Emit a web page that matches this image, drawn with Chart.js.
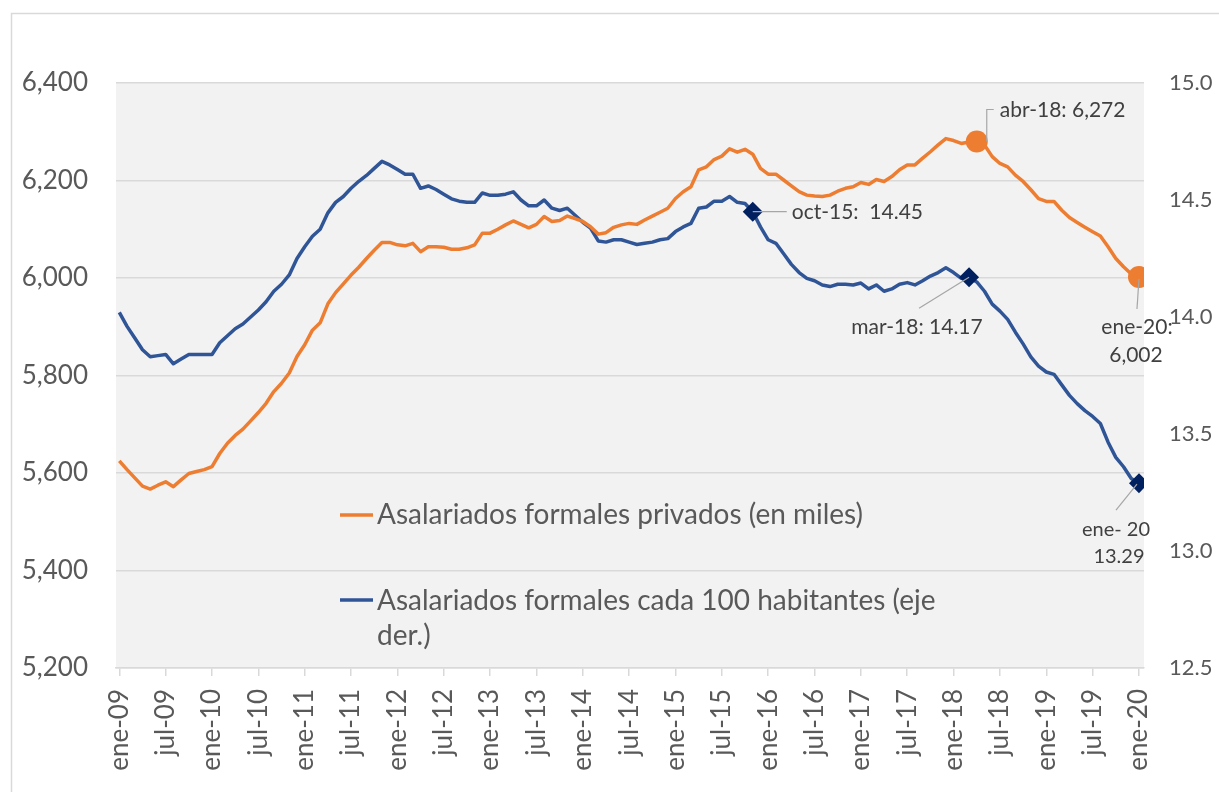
<!DOCTYPE html>
<html>
<head>
<meta charset="utf-8">
<script src="https://cdn.jsdelivr.net/npm/chart.js@4.4.0/dist/chart.umd.min.js"></script>
<style>
  html, body { margin: 0; padding: 0; background: #fff; }
</style>
</head>
<body>
<canvas id="myChart" width="1219" height="792"></canvas>
<script>
// meses ene-09 .. ene-20 (mensual)
var meses = ['ene', 'feb', 'mar', 'abr', 'may', 'jun', 'jul', 'ago', 'sep', 'oct', 'nov', 'dic'];
var etiquetas = [];
for (var a = 9; a <= 20; a++) {
  for (var m = 0; m < 12; m++) {
    if (a == 20 && m > 0) break;
    etiquetas.push(meses[m] + '-' + (a < 10 ? '0' + a : a));
  }
}

// Asalariados formales privados (en miles) - eje izq.
var privados = [
  5625, 5607, 5590, 5573, 5567, 5575, 5582, 5572, 5586, 5599, 5603, 5607,
  5613, 5640, 5661, 5677, 5690, 5707, 5724, 5743, 5767, 5784, 5805, 5839,
  5863, 5893, 5908, 5947, 5970, 5988, 6006, 6022, 6040, 6057, 6073, 6073,
  6068, 6066, 6071, 6054, 6064, 6064, 6063, 6059, 6059, 6062, 6068, 6092,
  6092, 6100, 6109, 6117, 6110, 6103, 6110, 6126, 6116, 6118, 6127, 6122,
  6116, 6105, 6090, 6093, 6104, 6109, 6112, 6110, 6119, 6127, 6135, 6143,
  6163, 6177, 6187, 6222, 6228, 6243, 6250, 6265, 6258, 6264, 6254, 6225,
  6213, 6213, 6201, 6189, 6177, 6170, 6168, 6167, 6170, 6178, 6184, 6187,
  6196, 6192, 6202, 6198, 6208, 6222, 6232, 6232, 6246, 6259, 6273, 6286,
  6282, 6276, 6279, 6280, 6273, 6249, 6235, 6228, 6211, 6198, 6181, 6163,
  6157, 6157, 6139, 6124, 6114, 6104, 6095, 6086, 6064, 6040, 6023, 6008,
  6002
];

// Asalariados formales cada 100 habitantes - eje der.
var cada100 = [
  14.02, 13.96, 13.91, 13.86, 13.83, 13.835, 13.84, 13.80, 13.82, 13.84, 13.84, 13.84,
  13.84, 13.89, 13.92, 13.95, 13.97, 14.00, 14.03, 14.065, 14.11, 14.14, 14.18, 14.25,
  14.30, 14.345, 14.375, 14.445, 14.49, 14.515, 14.55, 14.58, 14.605, 14.635, 14.665, 14.65,
  14.63, 14.61, 14.61, 14.55, 14.56, 14.545, 14.525, 14.505, 14.495, 14.49, 14.49, 14.53,
  14.52, 14.52, 14.525, 14.535, 14.50, 14.475, 14.475, 14.50, 14.465, 14.455, 14.465, 14.435,
  14.405, 14.38, 14.325, 14.32, 14.33, 14.33, 14.32, 14.31, 14.315, 14.32, 14.33, 14.335,
  14.365, 14.385, 14.40, 14.465, 14.47, 14.495, 14.495, 14.515, 14.49, 14.485, 14.45, 14.385,
  14.33, 14.315, 14.27, 14.225, 14.19, 14.165, 14.155, 14.137, 14.13, 14.14, 14.14, 14.137,
  14.145, 14.12, 14.137, 14.11, 14.12, 14.14, 14.147, 14.137, 14.155, 14.175, 14.19, 14.21,
  14.19, 14.165, 14.17, 14.15, 14.11, 14.055, 14.025, 13.99, 13.935, 13.885, 13.83, 13.79,
  13.765, 13.755, 13.71, 13.665, 13.63, 13.60, 13.575, 13.545, 13.465, 13.40, 13.36, 13.31,
  13.29
];

// puntos marcados y sus rotulos
var marcasPriv = [111, 132];
var textosPriv = [['abr-18: 6,272'], ['ene-20:', '6,002']];
var marcasHab = [82, 110, 132];
var textosHab = [['oct-15:  14.45'], ['mar-18: 14.17'], ['ene- 20', '13.29']];

var ticksIzq = [5200, 5400, 5600, 5800, 6000, 6200, 6400];
var ticksDer = [12.5, 13.0, 13.5, 14.0, 14.5, 15.0];

var naranja = '#ED7D31';
var azul = '#2F5597';
var azulOscuro = '#002060';
var gris = '#595959';

var fondo = {
  id: 'fondo',
  beforeDraw: function(chart) {
    var c = chart.ctx, ar = chart.chartArea;
    c.save();
    c.fillStyle = '#fff';
    c.fillRect(0, 0, chart.width, chart.height);
    c.strokeStyle = '#d9d9d9';
    c.lineWidth = 1.5;
    c.strokeRect(11.5, 13.5, 1400, 1000);
    c.fillStyle = '#f2f2f2';
    c.fillRect(ar.left, ar.top, ar.right - ar.left, ar.bottom - ar.top);
    c.restore();
  }
};

// leyenda dentro del grafico
var leyenda = {
  id: 'leyenda',
  afterDraw: function(chart) {
    var c = chart.ctx;
    c.save();
    c.lineWidth = 3.5;
    c.strokeStyle = naranja;
    c.beginPath(); c.moveTo(340, 515); c.lineTo(373, 515); c.stroke();
    c.strokeStyle = azul;
    c.beginPath(); c.moveTo(340, 600); c.lineTo(373, 600); c.stroke();
    c.fillStyle = gris;
    c.font = '28px Lato';
    c.textBaseline = 'middle';
    c.fillText('Asalariados formales privados (en miles)', 377, 515);
    c.fillText('Asalariados formales cada 100 habitantes (eje', 377, 601);
    c.fillText('der.)', 377, 636);
    c.restore();
  }
};

// rotulos de los puntos marcados
var rotulos = {
  id: 'rotulos',
  afterDraw: function(chart) {
    var c = chart.ctx, sx = chart.scales.x, yl = chart.scales.y, yr = chart.scales.y1;
    function linea(pts) {
      c.beginPath();
      c.moveTo(pts[0][0], pts[0][1]);
      for (var k = 1; k < pts.length; k++) c.lineTo(pts[k][0], pts[k][1]);
      c.stroke();
    }
    c.save();
    c.strokeStyle = '#a6a6a6';
    c.lineWidth = 1.2;
    c.fillStyle = '#404040';
    c.textBaseline = 'middle';

    // abr-18
    var px = sx.getPixelForValue(marcasPriv[0]), py = yl.getPixelForValue(privados[marcasPriv[0]]);
    linea([[px + 10, py], [px + 10, py - 32], [px + 17, py - 32]]);
    c.font = '21px Lato';
    c.textAlign = 'left';
    c.fillText(textosPriv[0][0], px + 23, py - 31);

    // ene-20 privados
    px = sx.getPixelForValue(marcasPriv[1]); py = yl.getPixelForValue(privados[marcasPriv[1]]);
    linea([[px, py + 2], [px - 2, py + 32]]);
    c.textAlign = 'center';
    c.fillText(textosPriv[1][0], px - 2, py + 50);
    c.fillText(textosPriv[1][1], px - 3, py + 78);

    // oct-15
    px = sx.getPixelForValue(marcasHab[0]); py = yr.getPixelForValue(cada100[marcasHab[0]]);
    linea([[px, py], [px + 34, py]]);
    c.textAlign = 'left';
    c.fillText(textosHab[0][0], px + 39, py + 1);

    // mar-18
    px = sx.getPixelForValue(marcasHab[1]); py = yr.getPixelForValue(cada100[marcasHab[1]]);
    linea([[px, py], [px - 50, py + 31]]);
    c.textAlign = 'center';
    c.fillText(textosHab[1][0], px - 52, py + 50);

    // ene-20 habitantes
    px = sx.getPixelForValue(marcasHab[2]); py = yr.getPixelForValue(cada100[marcasHab[2]]);
    linea([[px - 2, py + 1], [px - 23, py + 27]]);
    c.font = '20px Lato';
    c.fillText(textosHab[2][0], px - 23, py + 46);
    c.fillText(textosHab[2][1], px - 20, py + 73);
    c.restore();
  }
};

var ctx = document.getElementById('myChart').getContext('2d');
var myChart = new Chart(ctx, {
  type: 'line',
  data: {
    datasets: [{
      label: 'Asalariados formales privados (en miles)',
      data: privados.map(function(v, i) { return {x: i, y: v}; }),
      yAxisID: 'y',
      borderColor: naranja,
      borderWidth: 3.5,
      borderJoinStyle: 'round',
      pointStyle: 'circle',
      pointRadius: function(c) { return marcasPriv.indexOf(c.dataIndex) >= 0 ? 11 : 0; },
      pointBackgroundColor: naranja,
      pointBorderColor: naranja,
      pointBorderWidth: 0,
      tension: 0
    }, {
      label: 'Asalariados formales cada 100 habitantes (eje der.)',
      data: cada100.map(function(v, i) { return {x: i, y: v}; }),
      yAxisID: 'y1',
      borderColor: azul,
      borderWidth: 3.5,
      borderJoinStyle: 'round',
      pointStyle: 'rectRot',
      pointRadius: function(c) { return marcasHab.indexOf(c.dataIndex) >= 0 ? 10 : 0; },
      pointBackgroundColor: azulOscuro,
      pointBorderColor: azulOscuro,
      pointBorderWidth: 0,
      tension: 0
    }]
  },
  options: {
    responsive: false,
    animation: false,
    layout: { padding: { top: 83, left: 0, right: 0, bottom: 0 } },
    plugins: {
      legend: { display: false },
      tooltip: { enabled: false }
    },
    scales: {
      x: {
        type: 'linear',
        min: -0.43,
        max: 132.65,
        afterBuildTicks: function(scale) {
          var t = [];
          for (var i = 0; i < etiquetas.length; i += 6) t.push({value: i});
          scale.ticks = t;
        },
        afterFit: function(scale) { scale.height = 124; },
        grid: { drawOnChartArea: false, drawTicks: true, tickLength: 8, color: '#d9d9d9', lineWidth: 1.5 },
        border: { display: true, color: '#d9d9d9', width: 1.5 },
        ticks: {
          autoSkip: false,
          minRotation: 90,
          maxRotation: 90,
          padding: 13,
          color: gris,
          font: { family: 'Lato', size: 26 },
          callback: function(v) { return etiquetas[Math.round(v)]; }
        }
      },
      y: {
        position: 'left',
        min: 5200,
        max: 6400,
        afterBuildTicks: function(scale) {
          scale.ticks = ticksIzq.map(function(v) { return {value: v}; });
        },
        afterFit: function(scale) { scale.width = 116; },
        grid: { color: '#d9d9d9', lineWidth: 1.5, drawTicks: false },
        border: { display: false },
        ticks: {
          padding: 28,
          color: gris,
          font: { family: 'Lato', size: 26 },
          callback: function(v) { return v.toLocaleString('en-US'); }
        }
      },
      y1: {
        position: 'right',
        min: 12.5,
        max: 15,
        afterBuildTicks: function(scale) {
          scale.ticks = ticksDer.map(function(v) { return {value: v}; });
        },
        afterFit: function(scale) { scale.width = 75; },
        grid: { drawOnChartArea: false, drawTicks: false },
        border: { display: false },
        ticks: {
          padding: 25,
          color: gris,
          font: { family: 'Lato', size: 22 },
          callback: function(v) { return v.toFixed(1); }
        }
      }
    }
  },
  plugins: [fondo, leyenda, rotulos]
});
</script>
</body>
</html>
